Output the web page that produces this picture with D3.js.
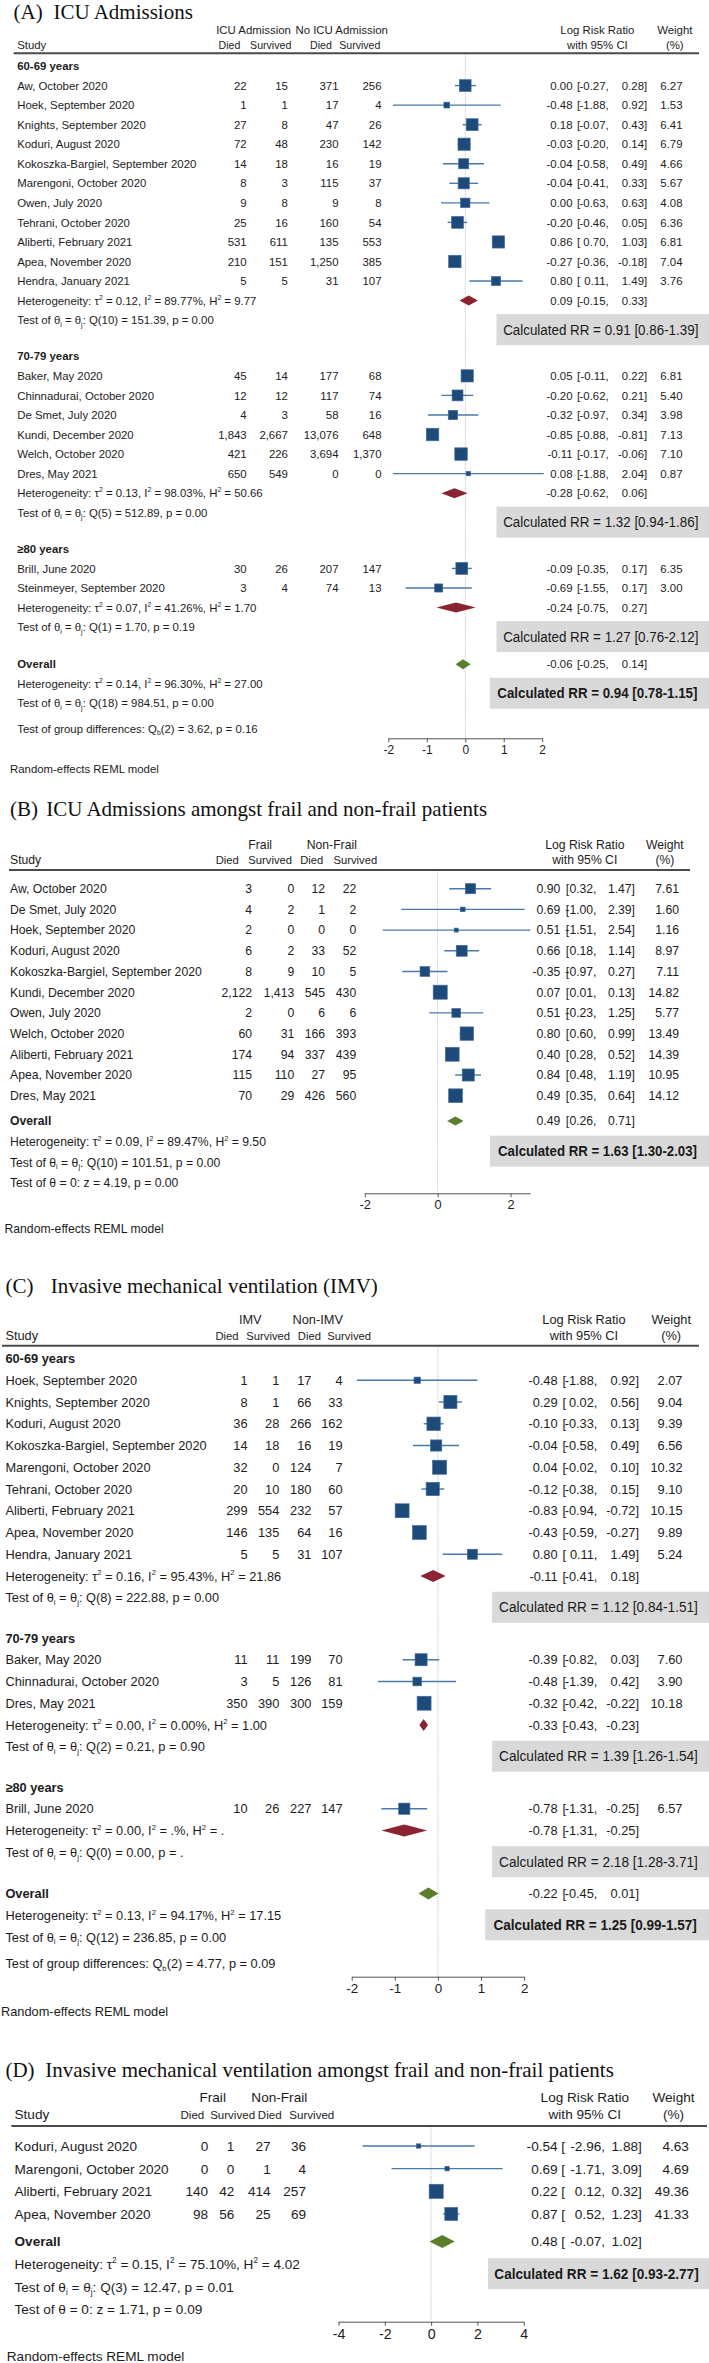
<!DOCTYPE html>
<html><head><meta charset="utf-8">
<script src="https://cdn.jsdelivr.net/npm/d3@7"></script>
<style>
body{margin:0;background:#fff;}
svg{display:block;}
text{font-family:"Liberation Sans",Arial,Helvetica,sans-serif;fill:#1c1c1c;}
.ttl{font-family:"Liberation Serif","Times New Roman",serif;fill:#111;}
.rr{font-family:"Liberation Sans",Arial,sans-serif;fill:#1a1a1a;}
</style></head><body>
<svg id="c" width="709" height="2363"></svg>
<script>
// ================= DATA =================
// study rows: [groupIndex, study, died1, survived1, died2, survived2, logRR, lo, hi, weight]
const A_title = ["(A)", "ICU Admissions"];
const A_head = ["ICU Admission", "No ICU Admission"];
const A_groups = ["60-69 years", "70-79 years", "≥80 years"];
const A_studies = [
  [0,"Aw, October 2020",22,15,371,256,0.00,-0.27,0.28,6.27],
  [0,"Hoek, September 2020",1,1,17,4,-0.48,-1.88,0.92,1.53],
  [0,"Knights, September 2020",27,8,47,26,0.18,-0.07,0.43,6.41],
  [0,"Koduri, August 2020",72,48,230,142,-0.03,-0.20,0.14,6.79],
  [0,"Kokoszka-Bargiel, September 2020",14,18,16,19,-0.04,-0.58,0.49,4.66],
  [0,"Marengoni, October 2020",8,3,115,37,-0.04,-0.41,0.33,5.67],
  [0,"Owen, July 2020",9,8,9,8,0.00,-0.63,0.63,4.08],
  [0,"Tehrani, October 2020",25,16,160,54,-0.20,-0.46,0.05,6.36],
  [0,"Aliberti, February 2021",531,611,135,553,0.86,0.70,1.03,6.81],
  [0,"Apea, November 2020",210,151,1250,385,-0.27,-0.36,-0.18,7.04],
  [0,"Hendra, January 2021",5,5,31,107,0.80,0.11,1.49,3.76],
  [1,"Baker, May 2020",45,14,177,68,0.05,-0.11,0.22,6.81],
  [1,"Chinnadurai, October 2020",12,12,117,74,-0.20,-0.62,0.21,5.40],
  [1,"De Smet, July 2020",4,3,58,16,-0.32,-0.97,0.34,3.98],
  [1,"Kundi, December 2020",1843,2667,13076,648,-0.85,-0.88,-0.81,7.13],
  [1,"Welch, October 2020",421,226,3694,1370,-0.11,-0.17,-0.06,7.10],
  [1,"Dres, May 2021",650,549,0,0,0.08,-1.88,2.04,0.87],
  [2,"Brill, June 2020",30,26,207,147,-0.09,-0.35,0.17,6.35],
  [2,"Steinmeyer, September 2020",3,4,74,13,-0.69,-1.55,0.17,3.00]
];
// subgroup: [logRR, lo, hi, tau2, I2, H2, Qdf, Q, p, calculatedRR]
const A_subtotals = [
  [0.09,-0.15,0.33,"0.12","89.77","9.77","10","151.39","0.00","0.91 [0.86-1.39]"],
  [-0.28,-0.62,0.06,"0.13","98.03","50.66","5","512.89","0.00","1.32 [0.94-1.86]"],
  [-0.24,-0.75,0.27,"0.07","41.26","1.70","1","1.70","0.19","1.27 [0.76-2.12]"]
];
const A_overall = [-0.06,-0.25,0.14,"0.14","96.30","27.00","18","984.51","0.00","0.94 [0.78-1.15]"];
const A_groupDiff = ["2","3.62","0.16"];
const A_ticks = [-2,-1,0,1,2];

const B_title = ["(B)", "ICU Admissions amongst frail and non-frail patients"];
const B_head = ["Frail", "Non-Frail"];
const B_studies = [
  [0,"Aw, October 2020",3,0,12,22,0.90,0.32,1.47,7.61],
  [0,"De Smet, July 2020",4,2,1,2,0.69,-1.00,2.39,1.60],
  [0,"Hoek, September 2020",2,0,0,0,0.51,-1.51,2.54,1.16],
  [0,"Koduri, August 2020",6,2,33,52,0.66,0.18,1.14,8.97],
  [0,"Kokoszka-Bargiel, September 2020",8,9,10,5,-0.35,-0.97,0.27,7.11],
  [0,"Kundi, December 2020",2122,1413,545,430,0.07,0.01,0.13,14.82],
  [0,"Owen, July 2020",2,0,6,6,0.51,-0.23,1.25,5.77],
  [0,"Welch, October 2020",60,31,166,393,0.80,0.60,0.99,13.49],
  [0,"Aliberti, February 2021",174,94,337,439,0.40,0.28,0.52,14.39],
  [0,"Apea, November 2020",115,110,27,95,0.84,0.48,1.19,10.95],
  [0,"Dres, May 2021",70,29,426,560,0.49,0.35,0.64,14.12]
];
const B_overall = [0.49,0.26,0.71,"0.09","89.47","9.50","10","101.51","0.00","1.63 [1.30-2.03]"];
const B_test0 = ["4.19","0.00"];
const B_ticks = [-2,0,2];
const B_axisDomain = [-2,2.54];

const C_title = ["(C)", "Invasive mechanical ventilation (IMV)"];
const C_head = ["IMV", "Non-IMV"];
const C_groups = ["60-69 years", "70-79 years", "≥80 years"];
const C_studies = [
  [0,"Hoek, September 2020",1,1,17,4,-0.48,-1.88,0.92,2.07],
  [0,"Knights, September 2020",8,1,66,33,0.29,0.02,0.56,9.04],
  [0,"Koduri, August 2020",36,28,266,162,-0.10,-0.33,0.13,9.39],
  [0,"Kokoszka-Bargiel, September 2020",14,18,16,19,-0.04,-0.58,0.49,6.56],
  [0,"Marengoni, October 2020",32,0,124,7,0.04,-0.02,0.10,10.32],
  [0,"Tehrani, October 2020",20,10,180,60,-0.12,-0.38,0.15,9.10],
  [0,"Aliberti, February 2021",299,554,232,57,-0.83,-0.94,-0.72,10.15],
  [0,"Apea, November 2020",146,135,64,16,-0.43,-0.59,-0.27,9.89],
  [0,"Hendra, January 2021",5,5,31,107,0.80,0.11,1.49,5.24],
  [1,"Baker, May 2020",11,11,199,70,-0.39,-0.82,0.03,7.60],
  [1,"Chinnadurai, October 2020",3,5,126,81,-0.48,-1.39,0.42,3.90],
  [1,"Dres, May 2021",350,390,300,159,-0.32,-0.42,-0.22,10.18],
  [2,"Brill, June 2020",10,26,227,147,-0.78,-1.31,-0.25,6.57]
];
const C_subtotals = [
  [-0.11,-0.41,0.18,"0.16","95.43","21.86","8","222.88","0.00","1.12 [0.84-1.51]"],
  [-0.33,-0.43,-0.23,"0.00","0.00","1.00","2","0.21","0.90","1.39 [1.26-1.54]"],
  [-0.78,-1.31,-0.25,"0.00",".",".","0","0.00",".","2.18 [1.28-3.71]"]
];
const C_overall = [-0.22,-0.45,0.01,"0.13","94.17","17.15","12","236.85","0.00","1.25 [0.99-1.57]"];
const C_groupDiff = ["2","4.77","0.09"];
const C_ticks = [-2,-1,0,1,2];

const D_title = ["(D)", "Invasive mechanical ventilation amongst frail and non-frail patients"];
const D_head = ["Frail", "Non-Frail"];
const D_studies = [
  [0,"Koduri, August 2020",0,1,27,36,-0.54,-2.96,1.88,4.63],
  [0,"Marengoni, October 2020",0,0,1,4,0.69,-1.71,3.09,4.69],
  [0,"Aliberti, February 2021",140,42,414,257,0.22,0.12,0.32,49.36],
  [0,"Apea, November 2020",98,56,25,69,0.87,0.52,1.23,41.33]
];
const D_overall = [0.48,-0.07,1.02,"0.15","75.10","4.02","3","12.47","0.01","1.62 [0.93-2.77]"];
const D_test0 = ["1.71","0.09"];
const D_ticks = [-4,-2,0,2,4];

const subHead = ["Died","Survived","Died","Survived"];
const footnote = "Random-effects REML model";

// ================= LAYOUT (style only) =================
const LA = {fs:11.4, hsF:0.93, y0:66, unit:19.55, gapG:1.85, gapO:1.9, gapT:1.3, left:17.2,
  cols:[246.7,287.9,338.5,381.5], xr:[388.3,542.2], ci:[572.5,577,608.7,647.2,682.5],
  h1:30, h2:45, rule:53.3, ruleX:[13.6,699], hg:[253.5,341.7], hs:[229.5,270.7,320.9,359.8],
  lrr:597.4, wt:674.8, ty:19, tx:[13.6,53.4], axisY:738.3, footX:10, footY:769.3,
  box:[496.5,489.7], tw:[195.5,200.4], k:4.67, dh:10};
const LB = {fs:12.2, hsF:0.92, y0:888.7, unit:20.7, gapO:1.22, left:10,
  cols:[252,294.2,325,356.2], xr:[364.8,530.2], ci:[560.3,565.7,596.5,635,679],
  h1:844.3, h2:860, rule:870, ruleX:[9,690], hg:[260.2,331.8], hs:[227.2,270.2,311.8,355.3],
  lrr:584.8, wt:664.9, ty:815.5, tx:[10,46.2], axisY:1193.3, footX:4.5, footY:1228.3,
  box:[490,490], tw:[199,199], k:3.64, dh:9};
const LC = {fs:12.8, hsF:0.88, y0:1358.5, unit:21.75, gapG:1.85, gapO:1.9, gapT:1.22, left:5.4,
  cols:[247.6,279.3,311.4,342.6], xr:[351.7,524.1], ci:[557.6,562.6,597.4,639,682.5],
  h1:1319.3, h2:1335, rule:1345.7, ruleX:[2,699], hg:[250.3,317.7], hs:[227,268.2,309.4,349.2],
  lrr:583.9, wt:671.2, ty:1292.7, tx:[5.4,50.7], axisY:1976.7, footX:1, footY:2011,
  box:[492,485.2], tw:[199,203.7], k:4.36, dh:12};
const LD = {fs:13.6, hsF:0.85, y0:2146, unit:22.65, gapO:1.22, left:14.5,
  cols:[208.2,234.4,270.7,306], xr:[338.5,523.7], ci:[557.6,561.2,605.1,641.8,688.9],
  h1:2097.3, h2:2114, rule:2126, ruleX:[11.3,707], hg:[212.7,279.3], hs:[192.4,232.6,269.7,311.8],
  lrr:584.8, wt:673.5, ty:2076.7, tx:[5.4,45.3], axisY:2321.7, footX:6.8, footY:2356.5,
  box:[488,488], tw:[204.6,204.6], k:2.0, dh:13};

const COL = {sq:"#1d4a78", sqStroke:"#3f6c9c", ci:"#4b79aa", sub:"#8c2330", ov:"#5b7d2c",
  box:"#d9d9d9", rule:"#4a4a4a", zero:"#c8c8c8", axis:"#555"};

const loc = d3.formatLocale({decimal:".", thousands:",", grouping:[3], currency:["",""], minus:"-"});
const f2 = loc.format(".2f"), fN = loc.format(",d");

const svg = d3.select("#c");

function rich(g, x, yb, segs, fs, weight) {
  const t = g.append("text").attr("x", x).attr("y", yb).attr("font-size", fs);
  if (weight) t.attr("font-weight", weight);
  let off = 0;
  segs.forEach(([s, m]) => {
    const target = m === 1 ? -fs * 0.42 : (m === -1 ? fs * 0.22 : 0);
    const ts = t.append("tspan").attr("dy", target - off).text(s);
    if (m !== 0) ts.attr("font-size", fs * 0.6);
    off = target;
  });
  return t;
}
function hetSegs(a) {
  return [["Heterogeneity: τ",0],["2",1],[" = " + a[3] + ", I",0],["2",1],[" = " + a[4] + "%, H",0],["2",1],[" = " + a[5],0]];
}
function testSegs(a) {
  return [["Test of θ",0],["i",-1],[" = θ",0],["j",-1],[": Q(" + a[6] + ") = " + a[7] + ", p = " + a[8],0]];
}

function drawPanel(P, D) {
  const g = svg.append("g");
  const fs = P.fs;
  const bl = yc => yc + fs * 0.36;
  const x = d3.scaleLinear().domain(D.domain).range(P.xr);
  const y = d3.scaleLinear().domain([0, 1]).range([P.y0, P.y0 + P.unit]);
  const side = d3.scaleSqrt().domain([0, 1]).range([0, P.k]);

  // title
  g.append("text").attr("class","ttl").attr("x", P.tx[0]).attr("y", P.ty).attr("font-size", 21).text(D.title[0]);
  g.append("text").attr("class","ttl").attr("x", P.tx[1]).attr("y", P.ty).attr("font-size", 21).text(D.title[1]);

  // header
  g.append("text").attr("x", P.hg[0]).attr("y", bl(P.h1)).attr("font-size", fs).attr("text-anchor","middle").text(D.head[0]);
  g.append("text").attr("x", P.hg[1]).attr("y", bl(P.h1)).attr("font-size", fs).attr("text-anchor","middle").text(D.head[1]);
  g.append("text").attr("x", P.left).attr("y", bl(P.h2)).attr("font-size", fs).text("Study");
  subHead.forEach((s, i) => g.append("text").attr("x", P.hs[i]).attr("y", bl(P.h2)).attr("font-size", fs * P.hsF).attr("text-anchor","middle").text(s));
  g.append("text").attr("x", P.lrr).attr("y", bl(P.h1)).attr("font-size", fs).attr("text-anchor","middle").text("Log Risk Ratio");
  g.append("text").attr("x", P.lrr).attr("y", bl(P.h2)).attr("font-size", fs).attr("text-anchor","middle").text("with 95% CI");
  g.append("text").attr("x", P.wt).attr("y", bl(P.h1)).attr("font-size", fs).attr("text-anchor","middle").text("Weight");
  g.append("text").attr("x", P.wt).attr("y", bl(P.h2)).attr("font-size", fs).attr("text-anchor","middle").text("(%)");

  // rows
  const rows = [];
  let u = 0;
  if (D.groups) {
    D.groups.forEach((gl, gi) => {
      rows.push({t:"ghead", u, label:gl});
      D.studies.filter(s => s[0] === gi).forEach(s => { u += 1; rows.push({t:"study", u, s}); });
      const sb = D.subs[gi];
      u += 1; rows.push({t:"het", u, a:sb, col:COL.sub});
      u += 1; rows.push({t:"test", u, a:sb, box:0});
      u += (gi < D.groups.length - 1) ? P.gapG : P.gapO;
    });
  } else {
    D.studies.forEach((s, i) => { if (i > 0) u += 1; rows.push({t:"study", u, s}); });
    u += P.gapO;
  }
  rows.push({t:"overall", u, a:D.overall, col:COL.ov});
  u += 1; rows.push({t:"ohet", u, a:D.overall, box:1});
  u += 1; rows.push({t:"otest", u, a:D.overall});
  if (D.groupDiff) { u += P.gapT; rows.push({t:"tgd", u}); }
  if (D.test0) { u += 1; rows.push({t:"test0", u}); }

  // boxes (behind)
  rows.filter(r => r.box !== undefined).forEach(r => {
    const bi = r.box;
    const x0 = P.box[bi], yc = y(r.u);
    g.append("rect").attr("x", x0).attr("y", yc - 6).attr("width", 709 - x0).attr("height", 31).attr("fill", COL.box);
    const cx = x0 + (705 - x0) / 2;
    const t = g.append("text").attr("class","rr").attr("x", 0).attr("y", 0)
      .attr("font-size", 14.5).attr("text-anchor","middle")
      .attr("font-weight", bi === 1 ? "bold" : "normal")
      .text("Calculated RR = " + r.a[9]);
    const nat = t.node().getComputedTextLength();
    const sc = P.tw[bi] / nat;
    t.attr("transform", `translate(${cx},${yc - 6 + 15.5 + 5.1}) scale(${sc},1)`);
  });

  // zero line
  g.append("line").attr("x1", x(0)).attr("x2", x(0)).attr("y1", P.rule).attr("y2", P.axisY)
    .attr("stroke", COL.zero).attr("stroke-width", 1).attr("stroke-dasharray", "1.5,1");
  // rule
  g.append("line").attr("x1", P.ruleX[0]).attr("x2", P.ruleX[1]).attr("y1", P.rule).attr("y2", P.rule)
    .attr("stroke", COL.rule).attr("stroke-width", 2);

  function ciText(yc, a, w) {
    const yb = bl(yc);
    g.append("text").attr("x", P.ci[0]).attr("y", yb).attr("font-size", fs).attr("text-anchor","end").text(f2(a[0]));
    g.append("text").attr("x", P.ci[1]).attr("y", yb).attr("font-size", fs).text("[");
    g.append("text").attr("x", P.ci[2]).attr("y", yb).attr("font-size", fs).attr("text-anchor","end").text(f2(a[1]) + ",");
    g.append("text").attr("x", P.ci[3]).attr("y", yb).attr("font-size", fs).attr("text-anchor","end").text(f2(a[2]) + "]");
    if (w !== undefined) g.append("text").attr("x", P.ci[4]).attr("y", yb).attr("font-size", fs).attr("text-anchor","end").text(f2(w));
  }
  function diamond(yc, a, col) {
    const h = P.dh / 2;
    const pts = [[x(a[1]), yc], [x(a[0]), yc - h], [x(a[2]), yc], [x(a[0]), yc + h]];
    g.append("polygon").attr("points", pts.map(p => p.join(",")).join(" ")).attr("fill", col);
  }

  rows.forEach(r => {
    const yc = y(r.u), yb = bl(yc);
    if (r.t === "ghead") {
      g.append("text").attr("x", P.left).attr("y", yb).attr("font-size", fs).attr("font-weight","bold").text(r.label);
    } else if (r.t === "study") {
      const s = r.s;
      g.append("text").attr("x", P.left).attr("y", yb).attr("font-size", fs).text(s[1]);
      [2,3,4,5].forEach((k, i) => g.append("text").attr("x", P.cols[i]).attr("y", yb).attr("font-size", fs).attr("text-anchor","end").text(fN(s[k])));
      g.append("line").attr("x1", x(s[7])).attr("x2", x(s[8])).attr("y1", yc).attr("y2", yc)
        .attr("stroke", COL.ci).attr("stroke-width", 1.4);
      const sd = side(s[9]);
      g.append("rect").attr("x", x(s[6]) - sd / 2).attr("y", yc - sd / 2).attr("width", sd).attr("height", sd)
        .attr("fill", COL.sq).attr("stroke", COL.sqStroke).attr("stroke-width", 0.7);
      ciText(yc, [s[6], s[7], s[8]], s[9]);
    } else if (r.t === "het") {
      rich(g, P.left, yb, hetSegs(r.a), fs);
      diamond(yc, r.a, r.col);
      ciText(yc, r.a);
    } else if (r.t === "test" || r.t === "otest") {
      rich(g, P.left, yb, testSegs(r.a), fs);
    } else if (r.t === "overall") {
      g.append("text").attr("x", P.left).attr("y", yb).attr("font-size", fs).attr("font-weight","bold").text("Overall");
      diamond(yc, r.a, r.col);
      ciText(yc, r.a);
    } else if (r.t === "ohet") {
      rich(g, P.left, yb, hetSegs(r.a), fs);
    } else if (r.t === "tgd") {
      const q = D.groupDiff;
      rich(g, P.left, yb, [["Test of group differences: Q",0],["b",-1],["(" + q[0] + ") = " + q[1] + ", p = " + q[2],0]], fs);
    } else if (r.t === "test0") {
      rich(g, P.left, yb, [["Test of θ = 0: z = " + D.test0[0] + ", p = " + D.test0[1],0]], fs);
    }
  });

  // axis
  const ax = d3.axisBottom(x).tickValues(D.ticks).tickSize(4).tickSizeOuter(0).tickPadding(fs * 0.25)
    .tickFormat(loc.format("d"));
  const ag = g.append("g").attr("transform", `translate(0,${P.axisY})`).call(ax);
  ag.select(".domain").attr("stroke", COL.axis);
  ag.selectAll(".tick line").attr("stroke", COL.axis);
  ag.selectAll(".tick text").attr("font-size", fs + 0.6).attr("fill", "#1c1c1c")
    .attr("font-family", '"Liberation Sans",Arial,sans-serif');

  // footnote
  g.append("text").attr("x", P.footX).attr("y", bl(P.footY)).attr("font-size", fs).text(footnote);
}

drawPanel(LA, {title:A_title, head:A_head, groups:A_groups, studies:A_studies, subs:A_subtotals,
  overall:A_overall, groupDiff:A_groupDiff, ticks:A_ticks, domain:[A_ticks[0], A_ticks[A_ticks.length-1]]});
drawPanel(LB, {title:B_title, head:B_head, studies:B_studies, overall:B_overall, test0:B_test0,
  ticks:B_ticks, domain:B_axisDomain});
drawPanel(LC, {title:C_title, head:C_head, groups:C_groups, studies:C_studies, subs:C_subtotals,
  overall:C_overall, groupDiff:C_groupDiff, ticks:C_ticks, domain:[C_ticks[0], C_ticks[C_ticks.length-1]]});
drawPanel(LD, {title:D_title, head:D_head, studies:D_studies, overall:D_overall, test0:D_test0,
  ticks:D_ticks, domain:[D_ticks[0], D_ticks[D_ticks.length-1]]});
</script>
</body></html>
